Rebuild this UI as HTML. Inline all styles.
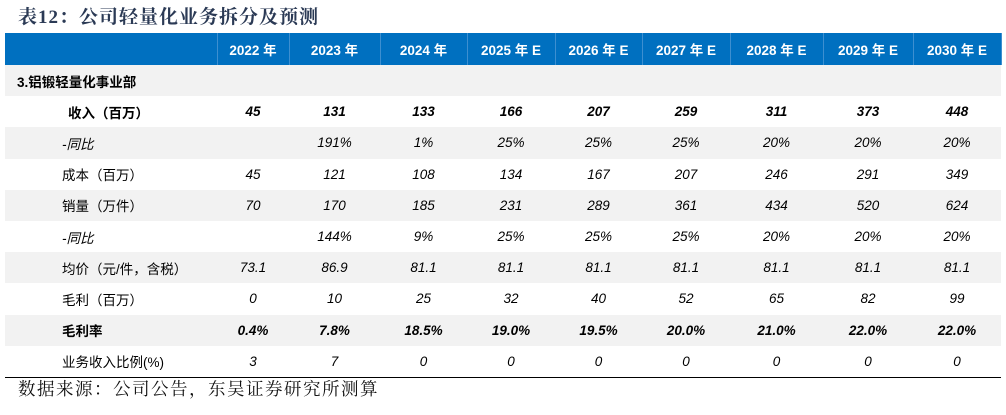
<!DOCTYPE html>
<html><head><meta charset="utf-8"><style>
body{margin:0;width:1006px;height:415px;background:#fff;position:relative;overflow:hidden;font-family:"Liberation Sans","Noto Sans CJK SC",sans-serif}
#title{position:absolute;left:18px;top:2px;font-family:"Liberation Serif","Noto Serif CJK SC",serif;font-weight:bold;font-size:19px;color:#2b3a55;letter-spacing:1px}
#foot{position:absolute;left:18px;top:376px;font-family:"Liberation Serif","Noto Serif CJK SC",serif;font-size:17.5px;color:#111;letter-spacing:1.5px}
table{position:absolute;left:5px;top:33px;border-collapse:collapse;table-layout:fixed;width:996px}
td{height:31.2px;padding:0;font-size:13.5px;color:#000;text-align:center;font-style:italic}
tr.h td{height:32px;background:#0070c0;color:#fff;font-weight:bold;font-style:normal;font-size:13.5px;border-right:1px solid #3d8fd0}
tr.g td{background:#f2f2f2}
td.l{text-align:left;font-style:normal;padding-left:57px}
tr.b td{font-weight:bold}
tr.s td.l{padding-left:12px}
tr.last td{border-bottom:1.5px solid #000}
</style></head><body>
<div id="title">表12：公司轻量化业务拆分及预测</div>
<table>
<colgroup><col style="width:212px"><col style="width:72px"><col style="width:91px"><col style="width:87px"><col style="width:88px"><col style="width:87px"><col style="width:88px"><col style="width:93px"><col style="width:90px"><col style="width:88px"></colgroup>
<tr class="h"><td></td><td>2022 年</td><td>2023 年</td><td>2024 年</td><td>2025 年 E</td><td>2026 年 E</td><td>2027 年 E</td><td>2028 年 E</td><td>2029 年 E</td><td>2030 年 E</td></tr>
<tr class="g s b"><td class="l">3.铝锻轻量化事业部</td><td></td><td></td><td></td><td></td><td></td><td></td><td></td><td></td><td></td></tr>
<tr class="b"><td class="l" style="padding-left:63px">收入（百万）</td><td>45</td><td>131</td><td>133</td><td>166</td><td>207</td><td>259</td><td>311</td><td>373</td><td>448</td></tr>
<tr class="g"><td class="l" style="font-style:italic">-同比</td><td></td><td>191%</td><td>1%</td><td>25%</td><td>25%</td><td>25%</td><td>20%</td><td>20%</td><td>20%</td></tr>
<tr><td class="l">成本（百万）</td><td>45</td><td>121</td><td>108</td><td>134</td><td>167</td><td>207</td><td>246</td><td>291</td><td>349</td></tr>
<tr class="g"><td class="l">销量（万件）</td><td>70</td><td>170</td><td>185</td><td>231</td><td>289</td><td>361</td><td>434</td><td>520</td><td>624</td></tr>
<tr><td class="l" style="font-style:italic">-同比</td><td></td><td>144%</td><td>9%</td><td>25%</td><td>25%</td><td>25%</td><td>20%</td><td>20%</td><td>20%</td></tr>
<tr class="g"><td class="l">均价（元/件，含税）</td><td>73.1</td><td>86.9</td><td>81.1</td><td>81.1</td><td>81.1</td><td>81.1</td><td>81.1</td><td>81.1</td><td>81.1</td></tr>
<tr><td class="l">毛利（百万）</td><td>0</td><td>10</td><td>25</td><td>32</td><td>40</td><td>52</td><td>65</td><td>82</td><td>99</td></tr>
<tr class="g b"><td class="l">毛利率</td><td>0.4%</td><td>7.8%</td><td>18.5%</td><td>19.0%</td><td>19.5%</td><td>20.0%</td><td>21.0%</td><td>22.0%</td><td>22.0%</td></tr>
<tr class="last"><td class="l">业务收入比例(%)</td><td>3</td><td>7</td><td>0</td><td>0</td><td>0</td><td>0</td><td>0</td><td>0</td><td>0</td></tr>
</table>
<div id="foot">数据来源：公司公告，东吴证券研究所测算</div>
</body></html>
